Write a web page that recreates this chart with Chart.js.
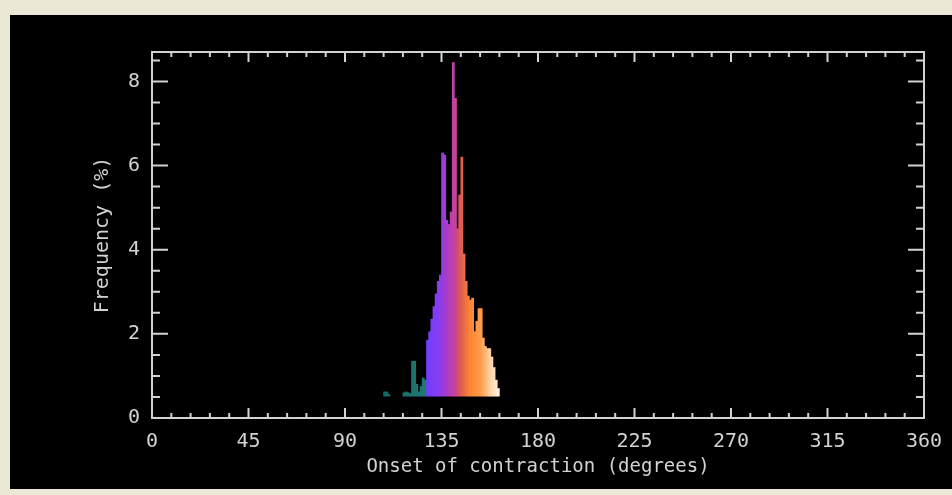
<!DOCTYPE html>
<html>
<head>
<meta charset="utf-8">
<script src="https://cdn.jsdelivr.net/npm/chart.js@4.4.0/dist/chart.umd.min.js"></script>
<style>
  html, body { margin: 0; padding: 0; background: #ebe8d6; }
  #frame { position: absolute; left: 10px; top: 15px; width: 942px; height: 474px; background: #000; }
</style>
</head>
<body>
<div id="frame"><canvas id="myChart" width="942" height="474"></canvas></div>
<script>
// histogram: left edge of each 1-degree bin and its frequency (%)
var binStart = [108, 109, 110, 117, 118, 119, 120, 121, 122, 123, 124, 125, 126, 127,
                128, 129, 130, 131, 132, 133, 134, 135, 136, 137, 138, 139, 140, 141,
                142, 143, 144, 145, 146, 147, 148, 149, 150, 151, 152, 153, 154, 155,
                156, 157, 158, 159, 160, 161];
var frequency = [0.62, 0.62, 0.56, 0.60, 0.62, 0.60, 0.58, 1.35, 1.35, 0.80, 0.62, 0.75, 0.95, 0.90,
                 1.85, 2.05, 2.35, 2.65, 2.95, 3.25, 3.40, 6.30, 6.25, 4.70, 4.60, 4.90, 8.45, 7.60,
                 4.50, 5.30, 6.20, 3.90, 3.25, 2.90, 2.80, 2.85, 2.05, 2.30, 2.60, 2.60, 1.90, 1.70,
                 1.65, 1.65, 1.45, 1.20, 0.90, 0.70];
var histBase = 0.52;   // the histogram is filled from here, not from 0

var xTickLabels = [0, 45, 90, 135, 180, 225, 270, 315, 360];
var yTickLabels = [0, 2, 4, 6, 8];
var xMinorStep = 9;
var yMinorStep = 0.5;

// colour ramp along the x axis (degrees -> rgb)
var colorStops = [
    [105, [24, 104, 100]],
    [127.9, [30, 122, 114]],
    [128, [112, 64, 255]],
    [133, [136, 60, 240]],
    [137, [168, 60, 204]],
    [141, [200, 68, 154]],
    [144, [224, 96, 76]],
    [148, [255, 136, 50]],
    [153, [255, 156, 76]],
    [156, [255, 196, 138]],
    [161, [255, 240, 224]]
];

function binColor(d) {
    for (var i = 1; i < colorStops.length; i++) {
        if (d <= colorStops[i][0]) {
            var a = colorStops[i - 1], b = colorStops[i];
            var t = Math.max(0, (d - a[0]) / (b[0] - a[0]));
            var c = a[1].map(function (v, k) { return Math.round(v + (b[1][k] - v) * t); });
            return 'rgb(' + c.join(',') + ')';
        }
    }
    var last = colorStops[colorStops.length - 1][1];
    return 'rgb(' + last.join(',') + ')';
}

var points = binStart.map(function (d, i) { return { x: d + 0.5, y: frequency[i] }; });
var barColors = binStart.map(function (d) { return binColor(d); });

var axisColor = '#d2d2d2';
var monoFont = 'DejaVu Sans Mono';

// IDL-style box: frame on all four sides with inward ticks
var boxPlugin = {
    id: 'idlBox',
    afterDatasetsDraw: function (chart) {
        var ctx = chart.ctx, a = chart.chartArea;
        var xs = chart.scales.x, ys = chart.scales.y;
        ctx.save();
        ctx.strokeStyle = axisColor;
        ctx.lineWidth = 2;
        ctx.strokeRect(a.left, a.top, a.right - a.left, a.bottom - a.top);
        ctx.beginPath();
        xs.ticks.forEach(function (t) {
            var px = xs.getPixelForValue(t.value);
            var len = xTickLabels.indexOf(t.value) >= 0 ? 10 : 5;
            ctx.moveTo(px, a.bottom); ctx.lineTo(px, a.bottom - len);
            ctx.moveTo(px, a.top); ctx.lineTo(px, a.top + len);
        });
        ys.ticks.forEach(function (t) {
            var py = ys.getPixelForValue(t.value);
            var len = yTickLabels.indexOf(t.value) >= 0 ? 16 : 8;
            ctx.moveTo(a.left, py); ctx.lineTo(a.left + len, py);
            ctx.moveTo(a.right, py); ctx.lineTo(a.right - len, py);
        });
        ctx.stroke();
        ctx.restore();
    }
};

var ctx = document.getElementById('myChart').getContext('2d');
var myChart = new Chart(ctx, {
    type: 'bar',
    data: {
        datasets: [{
            label: 'Frequency',
            data: points,
            base: histBase,
            backgroundColor: barColors,
            borderWidth: 0,
            barPercentage: 1.0,
            categoryPercentage: 1.0
        }]
    },
    options: {
        responsive: false,
        animation: false,
        layout: { padding: { top: 37, right: 28, left: 0, bottom: 0 } },
        plugins: {
            legend: { display: false },
            tooltip: { enabled: false }
        },
        scales: {
            x: {
                type: 'linear',
                min: 0,
                max: 360,
                offset: false,
                grid: { display: false },
                border: { display: false },
                afterBuildTicks: function (s) {
                    var t = [];
                    for (var v = 0; v <= 360; v += xMinorStep) t.push({ value: v });
                    s.ticks = t;
                },
                afterFit: function (s) { s.height = 71; },
                ticks: {
                    autoSkip: false,
                    maxRotation: 0,
                    padding: 4,
                    color: axisColor,
                    font: { family: monoFont, size: 20 },
                    callback: function (v) { return xTickLabels.indexOf(v) >= 0 ? String(v) : ''; }
                },
                title: {
                    display: true,
                    text: 'Onset of contraction (degrees)',
                    color: axisColor,
                    font: { family: monoFont, size: 19 },
                    padding: { top: 0, bottom: 11 }
                }
            },
            y: {
                min: 0,
                max: 8.7,
                grid: { display: false },
                border: { display: false },
                afterBuildTicks: function (s) {
                    var t = [];
                    for (var i = 0; i * yMinorStep <= 8.7; i++) t.push({ value: i * yMinorStep });
                    s.ticks = t;
                },
                afterFit: function (s) { s.width = 142; },
                ticks: {
                    autoSkip: false,
                    padding: 4,
                    color: axisColor,
                    font: { family: monoFont, size: 20 },
                    callback: function (v) { return yTickLabels.indexOf(v) >= 0 ? String(v) : ''; }
                },
                title: {
                    display: true,
                    text: 'Frequency (%)',
                    color: axisColor,
                    font: { family: monoFont, size: 20 },
                    padding: { top: 81, bottom: 0 }
                }
            }
        }
    },
    plugins: [boxPlugin]
});
</script>
</body>
</html>
